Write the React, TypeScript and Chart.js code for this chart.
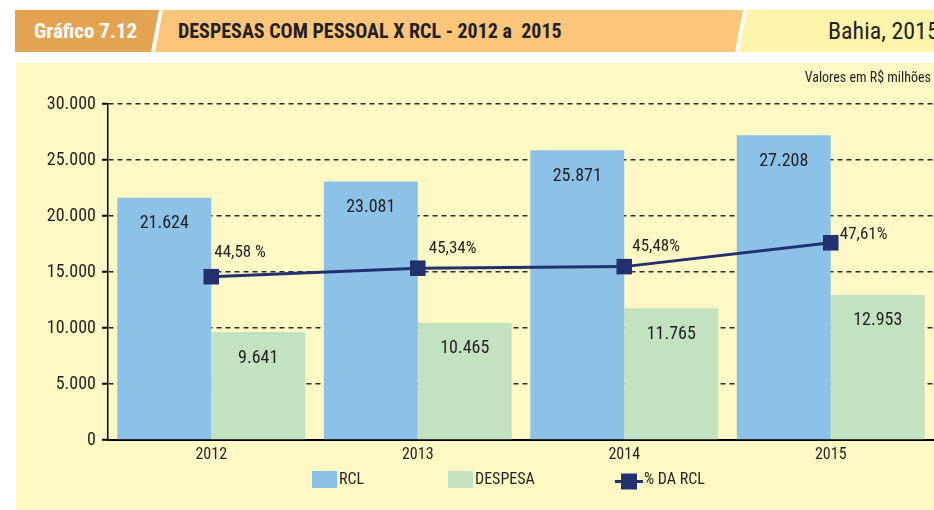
import React, { useEffect, useRef } from 'react';
import { Chart, registerables } from 'chart.js';

Chart.register(...registerables);

const categories = ['2012', '2013', '2014', '2015'];
const rclValues = [21624, 23081, 25871, 27208];
const despesaValues = [9641, 10465, 11765, 12953];
const pctValues = [44.58, 45.34, 45.48, 47.61];
const pctLabels = ['44,58 %', '45,34%', '45,48%', '47,61%'];
const yMin = 0;
const yMax = 30000;
const yStep = 5000;
const pctMin = 30;
const pctMax = 60;

const pctLabelOffsets = [
  [3, -24],
  [11, -19],
  [8, -20],
  [9, -8],
];

const FAMILY = 'Roboto, "DejaVu Sans Condensed", sans-serif';
const TEXT = '#231f20';
const RCL_COLOR = '#8dc2e8';
const DESP_COLOR = '#c2e2c0';
const LINE_COLOR = '#22316e';
const BG = '#fef9c4';

function fmtThousands(v: number): string {
  return String(Math.round(v)).replace(/\B(?=(\d{3})+(?!\d))/g, '.');
}

function condenseContext(ctx: any) {
  const desc = Object.getOwnPropertyDescriptor(CanvasRenderingContext2D.prototype, 'font');
  if (!desc || !desc.set || !desc.get) return;
  Object.defineProperty(ctx, 'font', {
    configurable: true,
    get() {
      return desc.get!.call(this);
    },
    set(v: string) {
      desc.set!.call(this, v);
      try {
        (this as any).fontStretch = 'condensed';
      } catch (e) {
        /* ignore */
      }
    },
  });
}

const labelsPlugin = {
  id: 'customLabels',
  afterDatasetsDraw(chart: any) {
    const ctx = chart.ctx;
    ctx.save();
    ctx.fillStyle = TEXT;
    ctx.textAlign = 'center';
    ctx.textBaseline = 'middle';
    ctx.font = `18px ${FAMILY}`;
    [0, 1].forEach((di) => {
      const meta = chart.getDatasetMeta(di);
      meta.data.forEach((bar: any, i: number) => {
        const v = chart.data.datasets[di].data[i] as number;
        ctx.fillText(fmtThousands(v), bar.x, bar.y + 26);
      });
    });
    ctx.font = `17px ${FAMILY}`;
    ctx.textAlign = 'left';
    const lm = chart.getDatasetMeta(2);
    lm.data.forEach((pt: any, i: number) => {
      const off = pctLabelOffsets[i];
      ctx.fillText(pctLabels[i], pt.x + off[0], pt.y + off[1]);
    });
    ctx.restore();
  },
  afterDraw(chart: any) {
    const ctx = chart.ctx;
    ctx.save();
    ctx.textBaseline = 'middle';
    ctx.textAlign = 'left';
    ctx.font = `16px ${FAMILY}`;
    ctx.fillStyle = RCL_COLOR;
    ctx.fillRect(296, 408, 25, 17);
    ctx.fillStyle = TEXT;
    ctx.fillText(chart.data.datasets[0].label, 323, 417);
    ctx.fillStyle = DESP_COLOR;
    ctx.fillRect(432, 408, 25, 17);
    ctx.fillStyle = TEXT;
    ctx.fillText(chart.data.datasets[1].label, 459, 417);
    ctx.strokeStyle = LINE_COLOR;
    ctx.lineWidth = 3;
    ctx.beginPath();
    ctx.moveTo(599, 418.5);
    ctx.lineTo(627, 418.5);
    ctx.stroke();
    ctx.fillStyle = LINE_COLOR;
    ctx.fillRect(605, 410.5, 16, 16);
    ctx.fillStyle = TEXT;
    ctx.fillText(chart.data.datasets[2].label, 628, 417);
    ctx.restore();
  },
};

export default function App() {
  const ref = useRef<HTMLCanvasElement>(null);

  useEffect(() => {
    if (!ref.current) return;
    const ctx2d = ref.current.getContext('2d');
    if (ctx2d) condenseContext(ctx2d);
    const chart = new Chart(ref.current, {
      type: 'bar',
      data: {
        labels: categories,
        datasets: [
          {
            type: 'bar', label: 'RCL', data: rclValues, backgroundColor: RCL_COLOR, borderWidth: 0,
            categoryPercentage: 0.91, barPercentage: 1, order: 1, yAxisID: 'y',
          },
          {
            type: 'bar', label: 'DESPESA', data: despesaValues, backgroundColor: DESP_COLOR, borderWidth: 0,
            categoryPercentage: 0.91, barPercentage: 1, order: 1, yAxisID: 'y',
          },
          {
            type: 'line', label: '% DA RCL', data: pctValues, borderColor: LINE_COLOR, backgroundColor: LINE_COLOR,
            borderWidth: 3, pointStyle: 'rect', pointRadius: 11, pointHoverRadius: 11, pointBorderWidth: 0,
            tension: 0, order: 0, yAxisID: 'y1',
          } as any,
        ],
      },
      options: {
        responsive: false,
        animation: false,
        events: [],
        layout: { autoPadding: false, padding: { top: 41, right: 0, bottom: 40, left: 0 } },
        plugins: {
          legend: { display: false },
          tooltip: { enabled: false },
          title: { display: false },
        },
        scales: {
          x: {
            grid: { display: false, drawTicks: false },
            border: { display: true, color: '#000', width: 2 },
            ticks: { font: { family: FAMILY, size: 16 }, color: TEXT, padding: 5 },
            afterFit: (s: any) => { s.height = 30; s.paddingLeft = 0; s.paddingRight = 0; },
          },
          y: {
            min: yMin, max: yMax,
            ticks: {
              stepSize: yStep, callback: (v: any) => fmtThousands(Number(v)),
              font: { family: FAMILY, size: 18 }, color: TEXT, padding: 6,
            },
            grid: {
              color: (c: any) => (c.tick && c.tick.value === 0 ? 'rgba(0,0,0,0)' : '#2a2a2a'),
              lineWidth: 1.5, drawTicks: true, tickLength: 6, tickWidth: 2, tickColor: '#000', tickBorderDash: [],
            } as any,
            border: { display: true, color: '#000', width: 1.5, dash: [5, 4] },
            afterFit: (s: any) => { s.width = 92; },
          },
          y1: { display: false, min: pctMin, max: pctMax, position: 'right', grid: { display: false } },
        },
      },
      plugins: [labelsPlugin],
    });
    return () => chart.destroy();
  }, []);

  const bandText: React.CSSProperties = {
    position: 'absolute', top: 10, height: 42, lineHeight: '42px', fontFamily: FAMILY,
    fontStretch: 'condensed', whiteSpace: 'nowrap',
  };

  return (
    <div style={{ position: 'absolute', left: 0, top: 0, width: 934, height: 510, background: '#ffffff', overflow: 'hidden', fontFamily: FAMILY }}>
      <div style={{ position: 'absolute', left: 0, top: 0, width: 934, height: 60, background: '#e4a350', clipPath: 'polygon(15px 10px, 159px 10px, 151px 52px, 15px 52px)' }} />
      <div style={{ position: 'absolute', left: 0, top: 0, width: 934, height: 60, background: '#fcc67a', clipPath: 'polygon(163px 10px, 743px 10px, 735px 52px, 155px 52px)' }} />
      <div style={{ position: 'absolute', left: 0, top: 0, width: 934, height: 60, background: '#fef5aa', clipPath: 'polygon(747px 10px, 934px 10px, 934px 52px, 739px 52px)' }} />
      <div style={{ ...bandText, left: 34, color: '#ffffff', fontWeight: 'bold', fontSize: 21 }}>Gráfico 7.12</div>
      <div style={{ ...bandText, left: 178, color: TEXT, fontWeight: 'bold', fontSize: 20 }}>
        DESPESAS COM PESSOAL X RCL - 2012 a&nbsp;&nbsp;2015
      </div>
      <div style={{ ...bandText, left: 828, color: TEXT, fontSize: 24 }}>Bahia, 2015</div>
      <div style={{ position: 'absolute', left: 16, top: 63, width: 918, height: 447, background: BG }}>
        <canvas ref={ref} width={918} height={447} style={{ display: 'block' }} />
        <div style={{ position: 'absolute', right: 3, top: 5, fontSize: 14, lineHeight: '18px', color: TEXT, fontFamily: FAMILY, fontStretch: 'condensed', whiteSpace: 'nowrap' }}>
          Valores em R$ milhões
        </div>
      </div>
    </div>
  );
}
